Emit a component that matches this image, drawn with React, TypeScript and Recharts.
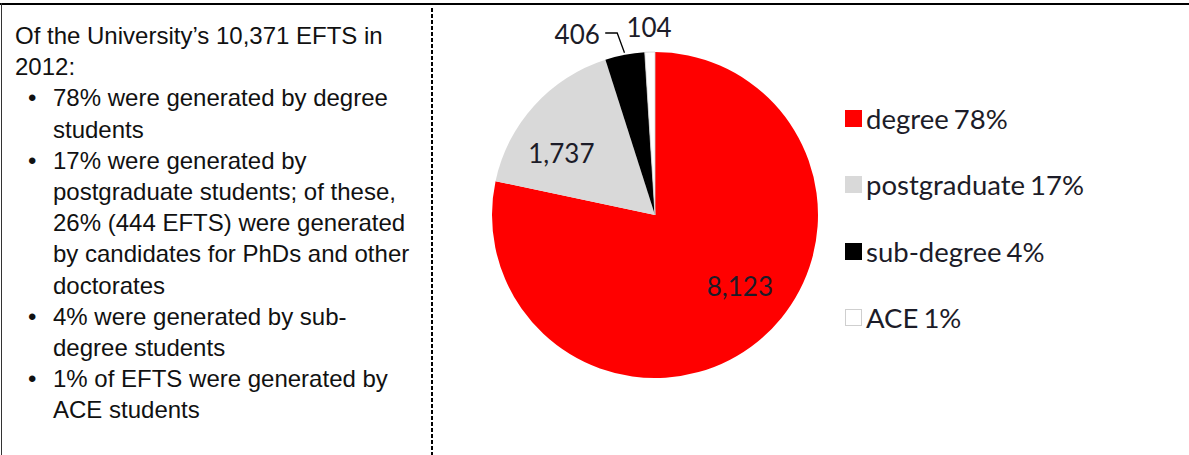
import React from "react";
import { PieChart, Pie, Cell, Legend } from "recharts";

const categories = ["degree", "postgraduate", "sub-degree", "ACE"];
const efts = [8123, 1737, 406, 104];
const shares = ["78%", "17%", "4%", "1%"];
const colors = ["#ff0000", "#d9d9d9", "#000000", "#ffffff"];

const intro = ["Of the University\u2019s 10,371 EFTS in", "2012:"];
const bullets = [
  ["78% were generated by degree", "students"],
  [
    "17% were generated by",
    "postgraduate students; of these,",
    "26% (444 EFTS) were generated",
    "by candidates for PhDs and other",
    "doctorates",
  ],
  ["4% were generated by sub-", "degree students"],
  ["1% of EFTS were generated by", "ACE students"],
];

const pieData = categories.map((name, i) => ({ name, value: efts[i] }));

const labelFont = "Lato, 'Open Sans', sans-serif";
const labelColor = "#1c1c28";

// label placement per slice: radius (fraction of outer or px beyond), angle nudge
const labelPos = [
  { r: 0.68, outside: 0, da: 11 },
  { r: 0.69, outside: 0, da: 8.5 },
  { r: 1, outside: 34, da: 12.6 },
  { r: 1, outside: 25, da: 0 },
];

const RAD = Math.PI / 180;

function renderLabel(props: any) {
  const { cx, cy, midAngle, outerRadius, index, value } = props;
  const p = labelPos[index];
  const r = outerRadius * p.r + p.outside;
  const a = (midAngle + p.da) * RAD;
  const x = cx + r * Math.cos(a);
  const y = cy - r * Math.sin(a);
  const text = Number(value).toLocaleString("en-US");
  let line = null;
  if (index === 2) {
    const m = midAngle * RAD;
    const sx = cx + (outerRadius + 2) * Math.cos(m);
    const sy = cy - (outerRadius + 2) * Math.sin(m);
    const ex = x + 40;
    const ey = y - 1;
    line = (
      <path
        d={`M${sx},${sy} L${ex},${ey} L${ex - 12},${ey}`}
        stroke="#000"
        strokeWidth={1.3}
        fill="none"
      />
    );
  }
  return (
    <g>
      {line}
      <text
        x={x}
        y={y}
        textAnchor="middle"
        dominantBaseline="central"
        fontFamily={labelFont}
        fontSize={26}
        fill={labelColor}
      >
        {text}
      </text>
    </g>
  );
}

function renderLegend() {
  return (
    <div style={{ fontFamily: labelFont, fontSize: 27.5, color: labelColor }}>
      {categories.map((name, i) => (
        <div
          key={name}
          style={{ display: "flex", alignItems: "center", height: 66.5 }}
        >
          <span
            style={{
              display: "inline-block",
              width: i === 3 ? 15 : 17,
              height: i === 3 ? 15 : 17,
              background: colors[i],
              border: i === 3 ? "1px solid #cfcfcf" : "none",
              marginRight: 4,
            }}
          />
          <span style={{ wordSpacing: -2 }}>
            {name} {shares[i]}
          </span>
        </div>
      ))}
    </div>
  );
}

export default function App() {
  const textStyle: React.CSSProperties = {
    position: "absolute",
    left: 15,
    top: 20,
    fontFamily: "'Liberation Sans', Arial, sans-serif",
    fontSize: 24,
    lineHeight: "31.2px",
    color: "#111",
    whiteSpace: "nowrap",
  };
  return (
    <div
      style={{
        position: "relative",
        width: 1189,
        height: 455,
        background: "#fff",
        overflow: "hidden",
      }}
    >
      <style>{"body{margin:0}"}</style>
      <div
        style={{
          position: "absolute",
          left: 0,
          top: 3,
          width: 1189,
          height: 2,
          background: "#000",
        }}
      />
      <div
        style={{
          position: "absolute",
          left: 1,
          top: 3,
          width: 1,
          height: 452,
          background: "#333",
        }}
      />
      <div
        style={{
          position: "absolute",
          left: 431,
          top: 8,
          width: 2,
          height: 447,
          background:
            "repeating-linear-gradient(to bottom, #000 0px, #000 4px, transparent 4px, transparent 6px)",
        }}
      />
      <div style={textStyle}>
        {intro.map((l) => (
          <div key={l}>{l}</div>
        ))}
        {bullets.map((lines, bi) => (
          <div key={bi} style={{ position: "relative", paddingLeft: 38 }}>
            <span style={{ position: "absolute", left: 13 }}>{"\u2022"}</span>
            {lines.map((l) => (
              <div key={l}>{l}</div>
            ))}
          </div>
        ))}
      </div>
      <div style={{ position: "absolute", left: 432, top: 0 }}>
        <PieChart
          width={757}
          height={455}
          margin={{ top: 0, right: 0, bottom: 0, left: 0 }}
        >
          <Pie
            data={pieData}
            dataKey="value"
            nameKey="name"
            cx={223}
            cy={215}
            outerRadius={163}
            startAngle={90}
            endAngle={-270}
            stroke="none"
            label={renderLabel}
            labelLine={false}
            isAnimationActive={false}
          >
            {pieData.map((d, i) => (
              <Cell
                key={d.name}
                fill={colors[i]}
                stroke={i === 3 ? "#d0d0d0" : "none"}
                strokeWidth={i === 3 ? 0.8 : 0}
              />
            ))}
          </Pie>
          <Legend
            content={renderLegend}
            wrapperStyle={{ position: "absolute", left: 413, top: 85, width: 320 }}
          />
        </PieChart>
      </div>
    </div>
  );
}
